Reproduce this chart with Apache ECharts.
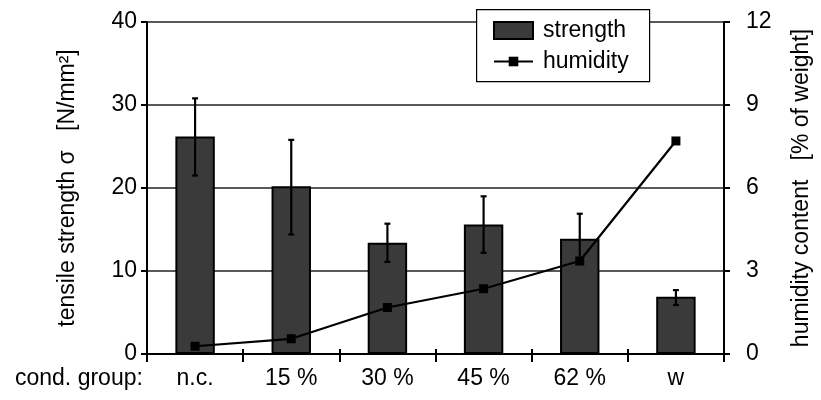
<!DOCTYPE html>
<html>
<head>
<meta charset="utf-8">
<script src="https://cdn.jsdelivr.net/npm/echarts@6/dist/echarts.min.js"></script>
<style>
  html, body { margin: 0; padding: 0; background: #fff; }
  #chart { width: 821px; height: 400px; }
</style>
</head>
<body>
<div id="chart"></div>
<script>
// data
var groups = ["n.c.", "15 %", "30 %", "45 %", "62 %", "w"];
var strength = [26.2, 20.2, 13.4, 15.6, 13.9, 6.9];
var strengthHigh = [30.8, 25.8, 15.7, 19.0, 16.9, 7.7];
var strengthLow = [21.5, 14.4, 11.1, 12.2, 10.9, 5.9];
var humidity = [0.28, 0.55, 1.68, 2.36, 3.36, 7.7];

var errData = groups.map(function (g, i) {
  return [i, strengthLow[i], strengthHigh[i]];
});

var font = "'Liberation Sans', Arial, sans-serif";
var fs = 23;
var chart = echarts.init(document.getElementById("chart"));

var legendText = { fontSize: fs, color: "#000", fontFamily: font, padding: [0, 0, 0, 5] };

var option = {
  animation: false,
  textStyle: { fontFamily: font, color: "#000" },
  grid: { left: 147, right: 91, top: 22, bottom: 46 },
  legend: [
    {
      data: [{ name: "strength", icon: "rect" }],
      left: 493,
      top: 19,
      z: 8,
      padding: 0,
      itemWidth: 39,
      itemHeight: 17,
      textStyle: legendText,
    },
    {
      data: ["humidity"],
      left: 493,
      top: 50,
      z: 8,
      padding: 0,
      itemWidth: 39,
      itemHeight: 12,
      textStyle: legendText,
    },
  ],
  graphic: [
    {
      // legend frame
      type: "rect",
      left: 476,
      top: 9,
      z: 5,
      shape: { width: 173, height: 72 },
      style: { fill: "#fff", stroke: "#000", lineWidth: 1.2 },
    },
    {
      type: "text",
      left: 15,
      top: 367,
      style: { text: "cond. group:", font: fs + "px " + font, fill: "#000" },
    },
  ],
  xAxis: [
    {
      type: "category",
      data: groups,
      boundaryGap: true,
      axisLine: { lineStyle: { color: "#000", width: 2 } },
      axisTick: { show: true, length: 8, lineStyle: { color: "#000", width: 2 } },
      axisLabel: { fontSize: fs, color: "#000", margin: 13, fontFamily: font },
    },
    {
      // short ticks on the inner side of the axis
      type: "category",
      data: groups,
      position: "bottom",
      boundaryGap: true,
      axisLine: { show: false },
      axisTick: { show: true, inside: true, length: 5, lineStyle: { color: "#000", width: 2 } },
      axisLabel: { show: false },
    },
  ],
  yAxis: [
    {
      type: "value",
      min: 0,
      max: 40,
      interval: 10,
      name: "tensile strength σ   [N/mm²]",
      nameLocation: "middle",
      nameGap: 68,
      nameTextStyle: { fontSize: fs, color: "#000", fontFamily: font },
      axisLine: { show: true, lineStyle: { color: "#000", width: 2 } },
      axisTick: { show: true, length: 6, lineStyle: { color: "#000", width: 2 } },
      axisLabel: { fontSize: fs, color: "#000", margin: 10, fontFamily: font },
      splitLine: { show: true, lineStyle: { color: "#222", width: 1.6 } },
    },
    {
      type: "value",
      min: 0,
      max: 12,
      interval: 3,
      position: "right",
      name: "humidity content   [% of weight]",
      nameLocation: "middle",
      nameGap: 66,
      nameRotate: 90,
      nameTextStyle: { fontSize: fs, color: "#000", fontFamily: font },
      axisLine: { show: true, lineStyle: { color: "#000", width: 2 } },
      axisTick: { show: true, length: 6, lineStyle: { color: "#000", width: 2 } },
      axisLabel: { fontSize: fs, color: "#000", margin: 22, fontFamily: font },
      splitLine: { show: false },
    },
  ],
  series: [
    {
      name: "strength",
      type: "bar",
      barWidth: "41%",
      data: strength,
      itemStyle: { color: "#3a3a3a", borderColor: "#000", borderWidth: 2 },
      z: 2,
    },
    {
      name: "humidity",
      type: "line",
      yAxisIndex: 1,
      data: humidity,
      symbol: "rect",
      symbolSize: 9,
      itemStyle: { color: "#000" },
      lineStyle: { color: "#000", width: 2.2 },
      z: 4,
    },
    {
      // error bars
      name: "error",
      type: "custom",
      data: errData,
      z: 5,
      renderItem: function (params, api) {
        var x = api.value(0);
        var lo = api.coord([x, api.value(1)]);
        var hi = api.coord([x, api.value(2)]);
        var w = 3;
        var st = { stroke: "#000", lineWidth: 2.2 };
        return {
          type: "group",
          children: [
            { type: "line", shape: { x1: hi[0], y1: hi[1], x2: lo[0], y2: lo[1] }, style: st },
            { type: "line", shape: { x1: hi[0] - w, y1: hi[1], x2: hi[0] + w, y2: hi[1] }, style: st },
            { type: "line", shape: { x1: lo[0] - w, y1: lo[1], x2: lo[0] + w, y2: lo[1] }, style: st },
          ],
        };
      },
    },
  ],
};

chart.setOption(option);
window.addEventListener("resize", function () {
  chart.resize();
});
</script>
</body>
</html>
